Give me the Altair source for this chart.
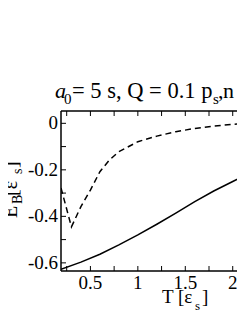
import altair as alt
import pandas as pd

# ---- data ----
dash_T = [0.19, 0.30, 0.40, 0.50, 0.60, 0.70, 0.80, 1.00, 1.20, 1.40, 1.60, 1.80, 2.00, 2.15]
dash_E = [-0.278, -0.445, -0.358, -0.287, -0.208, -0.158, -0.122, -0.079, -0.055, -0.036, -0.022, -0.012, -0.004, -0.001]

solid_T = [0.19, 0.40, 0.60, 0.80, 1.00, 1.20, 1.40, 1.60, 1.80, 2.00, 2.15]
solid_E = [-0.628, -0.597, -0.563, -0.523, -0.480, -0.434, -0.386, -0.337, -0.291, -0.250, -0.220]

x_labels = [0.5, 1.0, 1.5, 2.0]
x_ticks = [0.25, 0.5, 0.75, 1.0, 1.25, 1.5, 1.75, 2.0]
y_labels = [0.0, -0.2, -0.4, -0.6]
y_ticks = [0.0, -0.1, -0.2, -0.3, -0.4, -0.5, -0.6]

FONT = "Liberation Serif"
W, H = 176, 160
xdom = [0.19, 2.045]
ydom = [-0.635, 0.053]

xs = alt.Scale(domain=xdom, nice=False, zero=False)
ys = alt.Scale(domain=ydom, nice=False, zero=False)

dash_df = pd.DataFrame({"T": dash_T, "E": dash_E})
solid_df = pd.DataFrame({"T": solid_T, "E": solid_E})

solid = alt.Chart(solid_df).mark_line(color="black", strokeWidth=1.5, clip=True).encode(
    x=alt.X("T:Q", scale=xs, axis=None), y=alt.Y("E:Q", scale=ys, axis=None))
dashed = alt.Chart(dash_df).mark_line(color="black", strokeWidth=1.5, strokeDash=[6, 4], clip=True).encode(
    x=alt.X("T:Q", scale=xs, axis=None), y=alt.Y("E:Q", scale=ys, axis=None))

one = pd.DataFrame({"k": [0]})
# frame lines: top, bottom, left
frame_top = alt.Chart(one).mark_rule(color="black", strokeWidth=1.5).encode(
    x=alt.value(0), x2=alt.value(W + 2), y=alt.value(0))
frame_bot = alt.Chart(one).mark_rule(color="black", strokeWidth=1.5).encode(
    x=alt.value(0), x2=alt.value(W + 2), y=alt.value(H))
frame_left = alt.Chart(one).mark_rule(color="black", strokeWidth=1.5).encode(
    x=alt.value(0), y=alt.value(0), y2=alt.value(H))

xt_df = pd.DataFrame({"t": x_ticks})
yt_df = pd.DataFrame({"t": y_ticks})
top_ticks = alt.Chart(xt_df).mark_rule(color="black", strokeWidth=1).encode(
    x=alt.X("t:Q", scale=xs, axis=None), y=alt.value(0), y2=alt.value(5))
bot_ticks = alt.Chart(xt_df).mark_rule(color="black", strokeWidth=1).encode(
    x=alt.X("t:Q", scale=xs, axis=None), y=alt.value(H), y2=alt.value(H - 5))
left_ticks = alt.Chart(yt_df).mark_rule(color="black", strokeWidth=1).encode(
    y=alt.Y("t:Q", scale=ys, axis=None), x=alt.value(0), x2=alt.value(5))

# tick labels through the scales
xl_df = pd.DataFrame({"v": x_labels})
yl_df = pd.DataFrame({"v": y_labels})
x_lab = alt.Chart(xl_df).transform_calculate(lab="toString(datum.v)").mark_text(
    font=FONT, fontSize=19, align="center", baseline="alphabetic", color="black").encode(
    x=alt.X("v:Q", scale=xs, axis=None), y=alt.value(H + 18), text="lab:N")
y_lab = alt.Chart(yl_df).transform_calculate(lab="toString(datum.v)").mark_text(
    font=FONT, fontSize=19, align="right", baseline="middle", color="black").encode(
    y=alt.Y("v:Q", scale=ys, axis=None), x=alt.value(-3), text="lab:N")


def txt(s, x, y, size, angle=0, style="normal"):
    return alt.Chart(pd.DataFrame({"s": [s]})).mark_text(
        font=FONT, fontSize=size, fontStyle=style, align="left", baseline="alphabetic",
        angle=angle, color="black").encode(text="s:N", x=alt.value(x), y=alt.value(y))


texts = [
    # title (page x = 61 + x, page y = 111 + y)
    txt("a", -6, -13, 22, style="italic"),
    txt("0", 3, -7, 15),
    txt("= 5 s, Q = 0.1 p", 11, -13, 22.5),
    txt("s", 152, -7, 15),
    txt(",", 157, -13, 22),
    txt("n = 1", 162, -13, 22),
    # x title
    txt("T [ε", 101, 192, 19),
    txt("s", 134, 199, 13),
    txt("]", 141, 192, 19),
    # y title (rotated)
    txt("E", -44, 107, 20, angle=270),
    txt("B", -39, 93, 14, angle=270),
    txt(" [ε", -44, 85, 20, angle=270),
    txt("s", -39, 63, 14, angle=270),
    txt("]", -44, 57, 20, angle=270),
]

chart = alt.layer(solid, dashed, frame_top, frame_bot, frame_left, top_ticks, bot_ticks, left_ticks,
                  x_lab, y_lab, *texts).properties(
    width=W, height=H,
    padding={"left": 53, "top": 103, "right": 0, "bottom": 40},
    autosize=alt.AutoSizeParams(type="none"),
).configure_view(stroke=None)

chart.save("out.html", embed_options={"renderer": "svg", "actions": False})
